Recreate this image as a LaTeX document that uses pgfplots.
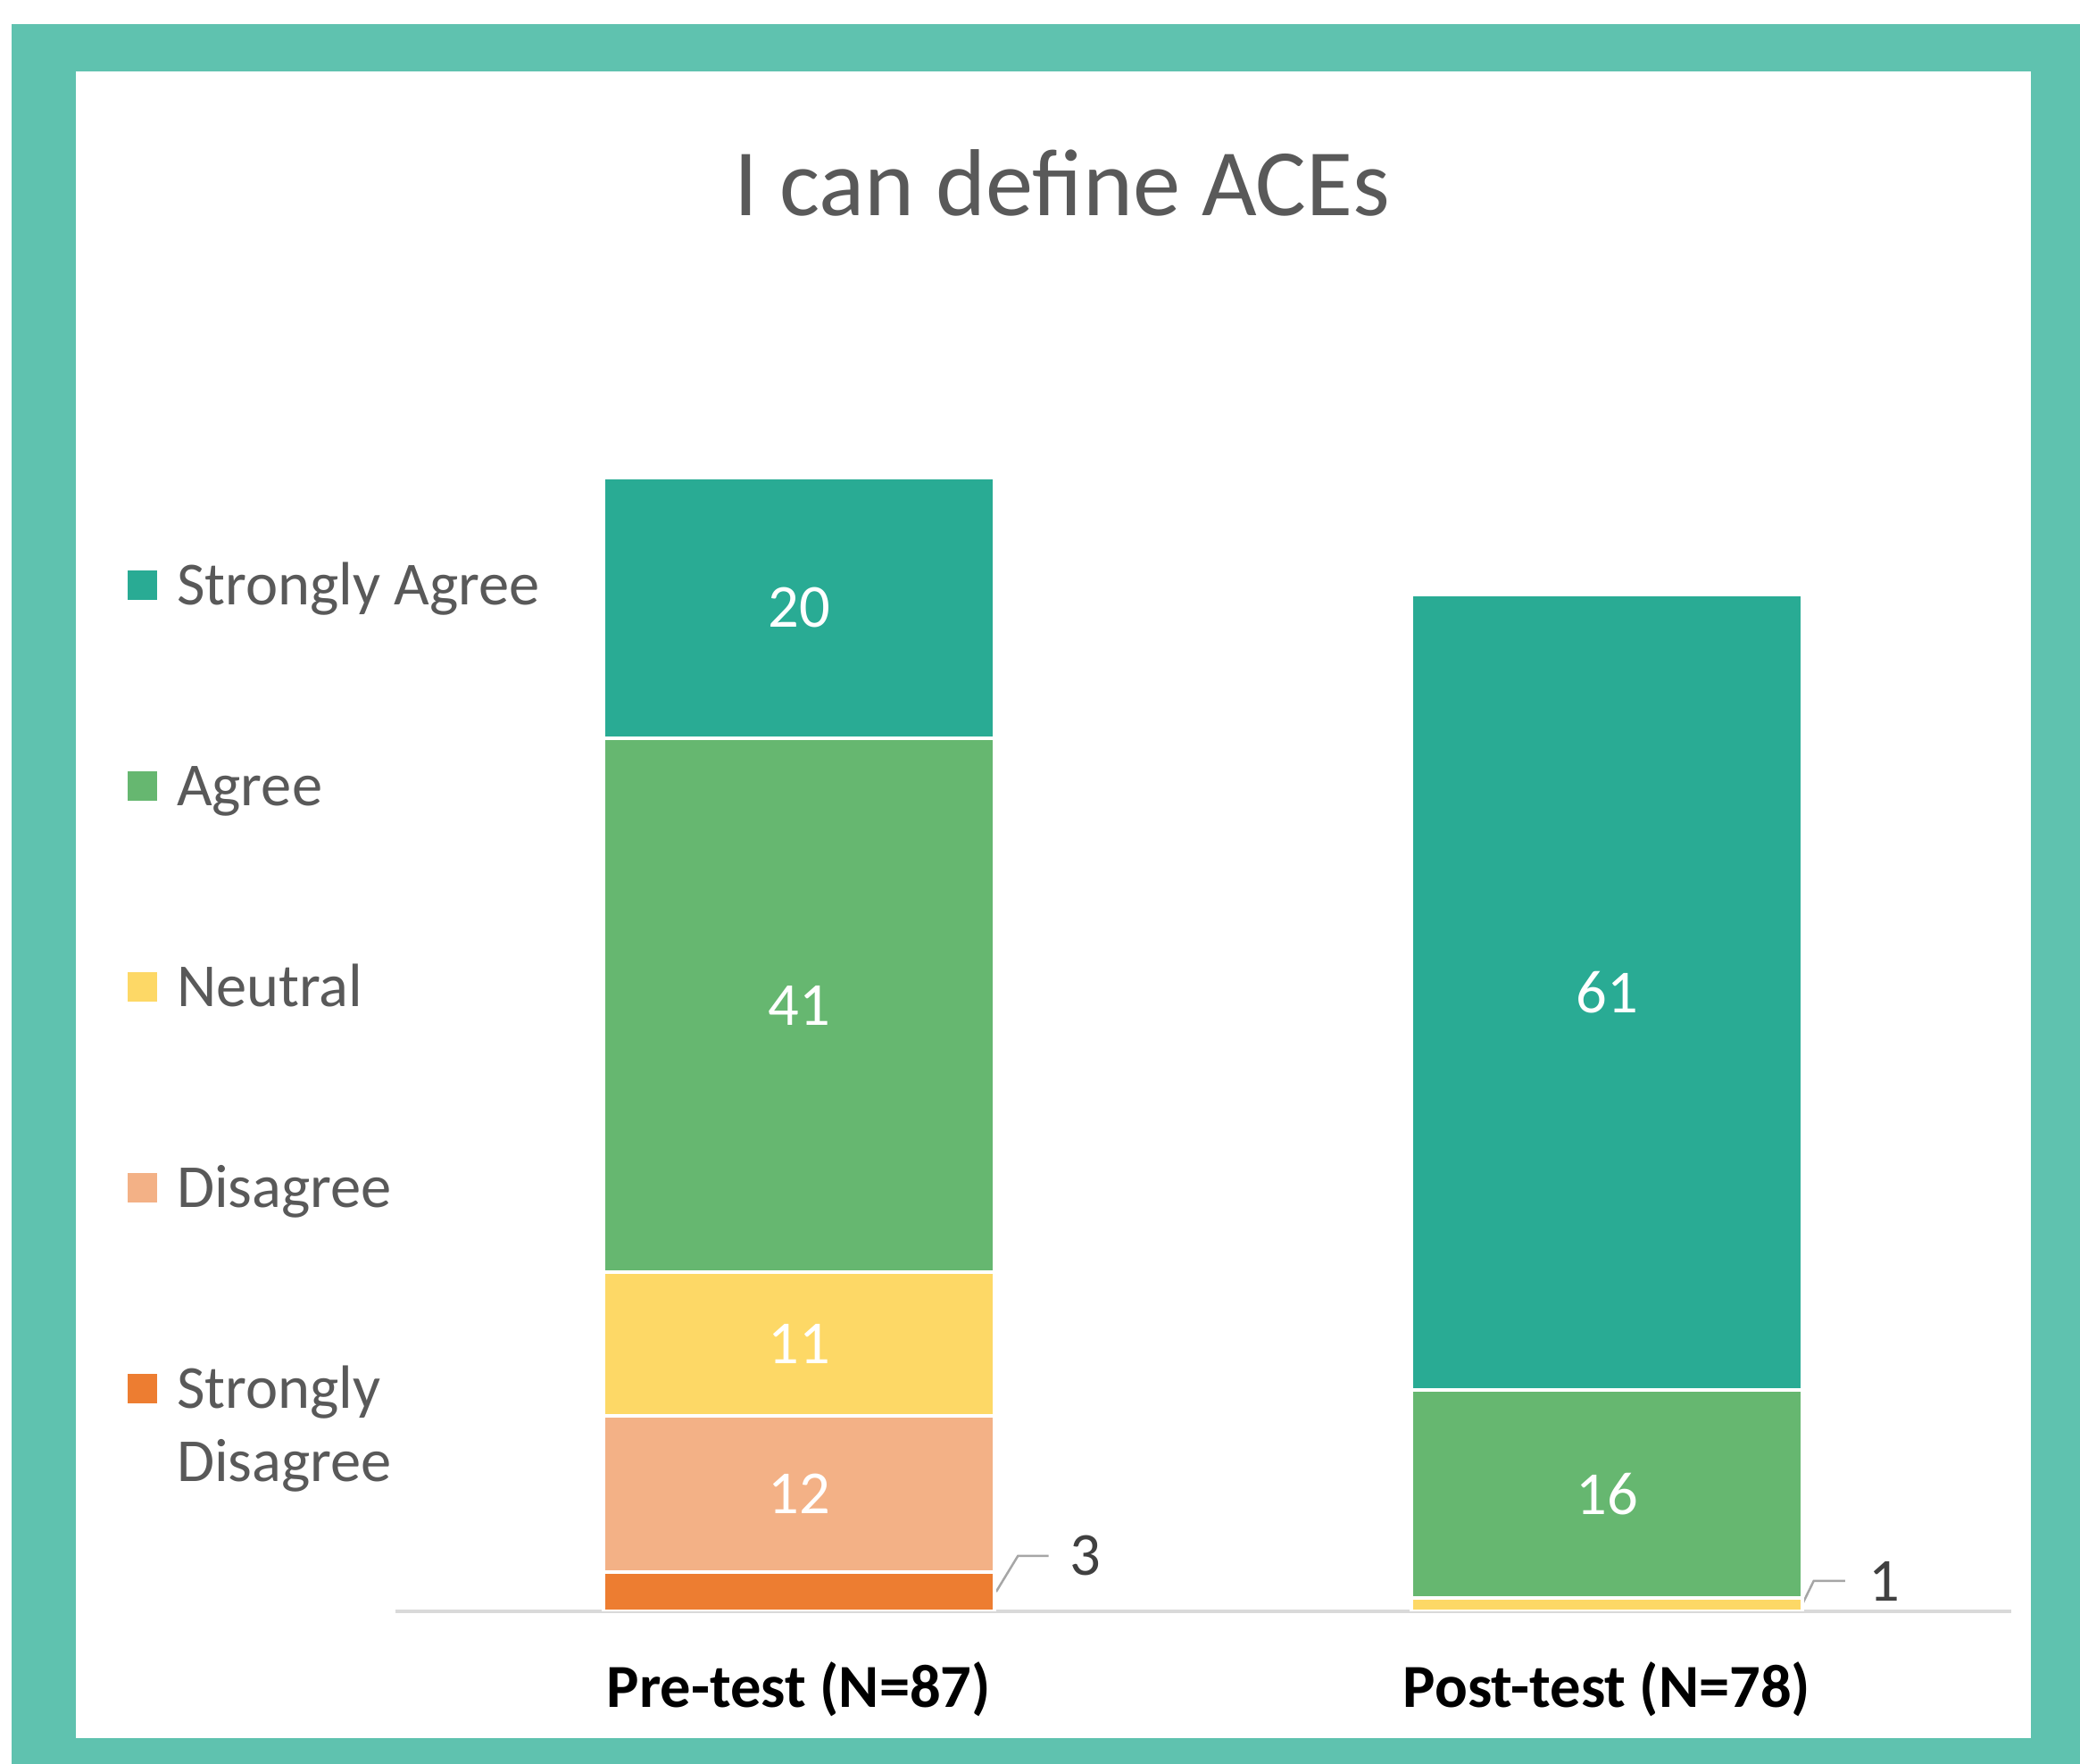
\documentclass[border=0pt]{standalone}
\usepackage{pgfplots}
\pgfplotsset{compat=1.18}
\usepackage{fontspec}
\setmainfont{Carlito}
\definecolor{frameT}{HTML}{5FC2AF}
\definecolor{cSA}{HTML}{29AB94}
\definecolor{cA}{HTML}{66B770}
\definecolor{cN}{HTML}{FDD866}
\definecolor{cD}{HTML}{F3B186}
\definecolor{cSD}{HTML}{ED7D31}
\definecolor{txtG}{HTML}{595959}
\definecolor{lblG}{HTML}{404040}
\definecolor{lineG}{HTML}{D9D9D9}
\definecolor{leadG}{HTML}{A6A6A6}
\begin{document}
\begin{tikzpicture}
\fill[frameT] (2.6pt,0pt) rectangle (466pt,389.8pt);
\fill[white] (17pt,5.8pt) rectangle (455pt,379.2pt);
\node[text=txtG, font=\fontsize{21.3}{25}\selectfont, inner sep=0pt] at (238pt,354.2pt) {I can define ACEs};
\begin{axis}[
  at={(88.5pt,34.2pt)}, anchor=south west,
  scale only axis, width=362pt, height=262.8pt,
  xmin=-0.5, xmax=1.5, ymin=0, ymax=90,
  ybar stacked, bar width=87.6pt,
  axis x line=bottom, axis y line=none,
  x axis line style={-, draw=lineG, line width=0.65pt},
  xtick={0,1}, xticklabels={Pre-test (N=87), Post-test (N=78)},
  major tick length=0pt,
  xticklabel style={font=\fontsize{13.7}{16}\selectfont\bfseries, text=black, anchor=base, inner sep=0pt, yshift=-21.6pt},
  ytick=\empty,
  /pgf/number format/assume math mode=true,
  nodes near coords={\ifdim\rawy pt<5pt\relax\else\pgfmathprintnumber{\rawy}\fi},
  visualization depends on=rawy\as\rawy,
  every node near coord/.append style={anchor=center, text=white, font=\fontsize{13.7}{16}\selectfont},
  legend style={draw=none, fill=none, at={(-0.16547,0.8958)}, anchor=north west, inner sep=0pt, outer sep=0pt, row sep=31pt, column sep=4.4pt, font=\fontsize{13.7}{16.4}\selectfont, text=txtG, nodes={inner sep=0pt, outer sep=0pt, text height=10pt, text depth=4pt}},
  legend cell align=left,
  legend image code/.code={\fill[#1,draw=none] (0pt,-1.9pt) rectangle (6.6pt,4.7pt);},
  reverse legend,
]
\addplot[fill=cSD, draw=white, line width=0.8pt] coordinates {(0,3) (1,0)};
\addlegendentry{\vtop{\hbox{Strongly}\hbox{Disagree}}}
\addplot[fill=cD, draw=white, line width=0.8pt] coordinates {(0,12) (1,0)};
\addlegendentry{Disagree}
\addplot[fill=cN, draw=white, line width=0.8pt] coordinates {(0,11) (1,1)};
\addlegendentry{Neutral}
\addplot[fill=cA, draw=white, line width=0.8pt] coordinates {(0,41) (1,16)};
\addlegendentry{Agree}
\addplot[fill=cSA, draw=white, line width=0.8pt] coordinates {(0,20) (1,61)};
\addlegendentry{Strongly Agree}
\draw[leadG, line width=0.5pt] (axis cs:0.244,1.5) -- (axis cs:0.271,4.25) -- (axis cs:0.309,4.25);
\node[text=lblG, font=\fontsize{13.7}{16}\selectfont] at (axis cs:0.354,4.3) {3};
\draw[leadG, line width=0.5pt] (axis cs:1.242,0.55) -- (axis cs:1.256,2.33) -- (axis cs:1.295,2.33);
\node[text=lblG, font=\fontsize{13.7}{16}\selectfont] at (axis cs:1.343,2.3) {1};
\end{axis}
\pgfresetboundingbox
\path (0,0) rectangle (466pt,395.2pt);
\end{tikzpicture}
\end{document}
